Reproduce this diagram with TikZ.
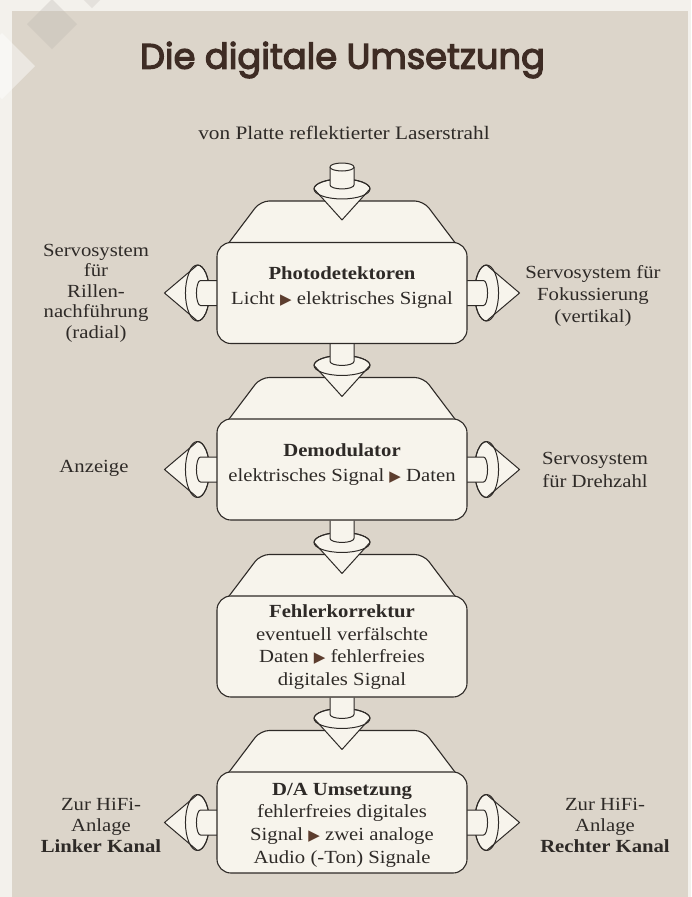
\documentclass[tikz,border=0pt]{standalone}
\usepackage{fontspec}
\setmainfont{Liberation Serif}[FakeStretch=1.12]
\newfontfamily\titlefont{Poppins}[FakeBold=3.5]
\newfontfamily\symfont{DejaVu Sans}
\usetikzlibrary{calc}
\definecolor{paper}{HTML}{F3F1EC}
\definecolor{panel}{HTML}{DCD5CA}
\definecolor{cream}{HTML}{F7F4EC}
\definecolor{ink}{HTML}{2E2A27}
\definecolor{titlebrown}{HTML}{3E2C24}
\definecolor{tribrown}{HTML}{5C3D2E}
\definecolor{decor}{HTML}{B8B4AE}
\pgfdeclarelayer{faces}\pgfdeclarelayer{arrows}
\pgfsetlayers{faces,arrows,main}
\newcommand{\tri}{{\symfont\fontsize{15}{15}\selectfont\color{tribrown}▶}}
\tikzset{
  frontbox/.style={draw=ink, line width=1.1pt, fill=cream, rounded corners=14pt,
    minimum width=250pt, minimum height=101pt, inner sep=0pt},
  facebox/.style={draw=ink, line width=1.1pt, fill=cream, rounded corners=9pt},
  part/.style={draw=ink, line width=1pt, fill=cream, line join=round},
  boxtext/.style={align=center, text=ink, inner sep=0pt, font=\fontsize{18.5}{25}\selectfont},
  boxtextb/.style={boxtext, font=\fontsize{18.5}{22.7}\selectfont},
  sidetext/.style={align=center, text=ink, inner sep=0pt, font=\fontsize{18.5}{21}\selectfont},
}
\newcommand{\topface}[1]{%
  \begin{pgfonlayer}{faces}
  \draw[facebox] ($(#1.north west)+(7,8)$) -- ($(#1.north west)+(44,-41)$)
     -- ($(#1.north east)+(-44,-41)$) -- ($(#1.north east)+(-7,8)$) -- cycle;
  \end{pgfonlayer}}
\newcommand{\conedown}[2]{%
  \begin{pgfonlayer}{arrows}
  \coordinate (cc) at ($(#2.north)+(0,-53)$);
  \coordinate (ct) at ($(#2.north)+(0,-22)$);
  \filldraw[part] ($(cc)+(-28,0)$) -- (ct) -- ($(cc)+(28,0)$)
     arc[start angle=0, end angle=180, x radius=28pt, y radius=10pt] -- cycle;
  \draw[part, fill=none] (cc) ellipse [x radius=28pt, y radius=10pt];
  \fill[cream] ($(#1)+(-12,0)$) -- ($(cc)+(-12,-4)$)
     arc[start angle=180, end angle=360, x radius=12pt, y radius=4pt] -- ($(#1)+(12,0)$) -- cycle;
  \draw[part, fill=none] ($(#1)+(-12,0)$) -- ($(cc)+(-12,-4)$)
     arc[start angle=180, end angle=360, x radius=12pt, y radius=4pt] -- ($(#1)+(12,0)$);
  \end{pgfonlayer}}
\newcommand{\coneleft}[1]{%
  \begin{pgfonlayer}{arrows}
  \coordinate (ce) at ($(#1.west)+(-19,0)$);
  \coordinate (ctp) at ($(#1.west)+(-52,0)$);
  \filldraw[part] (ctp) -- ($(ce)+(0,-28)$)
     arc[start angle=90, end angle=-90, x radius=12pt, y radius=28pt] -- cycle;
  \draw[part, fill=none] (ce) ellipse [x radius=12pt, y radius=28pt];
  \fill[cream] ($(#1.west)+(5,-12.5)$) -- ($(ce)+(3,-12.5)$)
     arc[start angle=90, end angle=270, x radius=4pt, y radius=12.5pt] -- ($(#1.west)+(5,12.5)$) -- cycle;
  \draw[part, fill=none] ($(#1.west)+(5,-12.5)$) -- ($(ce)+(3,-12.5)$)
     arc[start angle=90, end angle=270, x radius=4pt, y radius=12.5pt] -- ($(#1.west)+(5,12.5)$);
  \end{pgfonlayer}}
\newcommand{\coneright}[1]{%
  \begin{pgfonlayer}{arrows}
  \coordinate (ce) at ($(#1.east)+(19,0)$);
  \coordinate (ctp) at ($(#1.east)+(52,0)$);
  \filldraw[part] (ctp) -- ($(ce)+(0,-28)$)
     arc[start angle=90, end angle=270, x radius=12pt, y radius=28pt] -- cycle;
  \draw[part, fill=none] (ce) ellipse [x radius=12pt, y radius=28pt];
  \fill[cream] ($(#1.east)+(-5,-12.5)$) -- ($(ce)+(-3,-12.5)$)
     arc[start angle=90, end angle=-90, x radius=4pt, y radius=12.5pt] -- ($(#1.east)+(-5,12.5)$) -- cycle;
  \draw[part, fill=none] ($(#1.east)+(-5,-12.5)$) -- ($(ce)+(-3,-12.5)$)
     arc[start angle=90, end angle=-90, x radius=4pt, y radius=12.5pt] -- ($(#1.east)+(-5,12.5)$);
  \end{pgfonlayer}}

\begin{document}
\begin{tikzpicture}[x=1pt,y=-1pt]
\useasboundingbox (0,0) rectangle (691,897);
\begin{pgfonlayer}{faces}
\fill[paper] (0,0) rectangle (691,897);
\fill[panel] (12,11) rectangle (688,897);
\begin{scope}
\clip (0,0) rectangle (691,897);
\fill[decor, opacity=0.3] (52,49) -- (77,24) -- (52,-1) -- (27,24) -- cycle;
\fill[white, opacity=0.45] (35,66) -- (2,33) -- (-31,66) -- (2,99) -- cycle;
\fill[decor, opacity=0.25] (92,8) -- (109,-9) -- (92,-26) -- (75,-9) -- cycle;
\end{scope}
\end{pgfonlayer}

% title
\node[text=titlebrown, inner sep=0pt] (title) at (342.5,60)
  {\resizebox{405pt}{!}{\titlefont\fontsize{40}{40}\selectfont Die digitale Umsetzung}};
\node[text=ink, inner sep=0pt] (sub) at (344,133)
  {\fontsize{19}{19}\selectfont von Platte reflektierter Laserstrahl};

% boxes
\node[frontbox] (b1) at (342,293) {};
\node[frontbox] (b2) at (342,469.5) {};
\node[frontbox] (b3) at (342,646.5) {};
\node[frontbox] (b4) at (342,822.5) {};
\topface{b1}\topface{b2}\topface{b3}\topface{b4}

\node[boxtext] (t1) at (342,288) {\textbf{Photodetektoren}\\Licht \tri{} elektrisches Signal};
\node[boxtext] (t2) at (342,465) {\textbf{Demodulator}\\elektrisches Signal \tri{} Daten};
\node[boxtextb] (t3) at (342,647) {\textbf{Fehlerkorrektur}\\eventuell verfälschte\\Daten \tri{} fehlerfreies\\digitales Signal};
\node[boxtextb] (t4) at (342,825) {\textbf{D/A Umsetzung}\\fehlerfreies digitales\\Signal \tri{} zwei analoge\\Audio (-Ton) Signale};

% vertical connectors
\coordinate (src) at (342,167);
\conedown{src}{b1}
\begin{pgfonlayer}{arrows}
\draw[part] (src) ellipse [x radius=12pt, y radius=4pt];
\end{pgfonlayer}
\conedown{b1.south}{b2}
\conedown{b2.south}{b3}
\conedown{b3.south}{b4}

% side connectors
\coneleft{b1}\coneright{b1}
\coneleft{b2}\coneright{b2}
\coneleft{b4}\coneright{b4}

% side labels
\node[sidetext, font=\fontsize{18.5}{20.5}\selectfont] (l1) at (96,293) {Servosystem\\für\\Rillen-\\nachführung\\(radial)};
\node[sidetext, font=\fontsize{18.5}{22}\selectfont] (r1) at (593,296) {Servosystem für\\Fokussierung\\(vertikal)};
\node[sidetext] (l2) at (94,468) {Anzeige};
\node[sidetext, font=\fontsize{18.5}{23}\selectfont] (r2) at (595,470) {Servosystem\\für Drehzahl};
\node[sidetext] (l4) at (101,825) {Zur HiFi-\\Anlage\\\textbf{Linker Kanal}};
\node[sidetext] (r4) at (605,825) {Zur HiFi-\\Anlage\\\textbf{Rechter Kanal}};
\end{tikzpicture}
\end{document}
